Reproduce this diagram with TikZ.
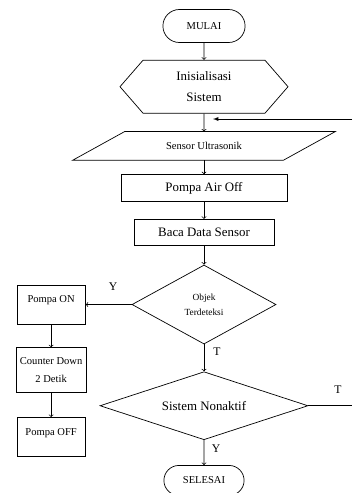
\documentclass[tikz,border=0pt]{standalone}
\usepackage{fontspec}
\setmainfont{Liberation Serif}
\usetikzlibrary{shapes.geometric, shapes.symbols, shapes.misc, arrows, positioning}
\tikzstyle{terminal} = [rounded rectangle, minimum width=2.7cm, minimum height=0.99cm, draw=black, fill=white, font=\fontsize{9}{10}\selectfont]
\tikzstyle{prep} = [signal, signal to=west and east, signal pointer angle=98, minimum width=5.04cm, minimum height=1.59cm, draw=black, align=center, font=\fontsize{11}{18}\selectfont]
\tikzstyle{io} = [rectangle, minimum width=6.3cm, minimum height=0.84cm, inner sep=1pt, font=\fontsize{9}{11}\selectfont]
\tikzstyle{process} = [rectangle, minimum height=0.8cm, draw=black, font=\fontsize{11}{13}\selectfont]
\tikzstyle{decision} = [diamond, inner sep=0pt, align=center, draw=black]
\tikzstyle{sidebox} = [rectangle, minimum width=2.05cm, inner ysep=0pt, align=center, draw=black, font=\fontsize{9}{15}\selectfont]
\tikzstyle{branch} = [font=\fontsize{10}{12}\selectfont]
\tikzstyle{arrow} = [line width=0.6pt,->,>=to]
\tikzstyle{line} = [line width=0.6pt]

\begin{document}
\begin{tikzpicture}[x=0.03cm, y=-0.03cm, every path/.style={line width=0.6pt}]
		\useasboundingbox (0,0) rectangle (352,493);
		\node (mulai) [terminal] at (204,26) {MULAI};
		\node (inisialisasi) [prep, below=0.51cm of mulai] {Inisialisasi\\Sistem};
		\node (sensor) [io, below=0.54cm of inisialisasi] {Sensor Ultrasonik};
		\draw [line] ([xshift=0.78cm]sensor.north west) -- ([xshift=0.78cm]sensor.north east) -- ([xshift=-0.78cm]sensor.south east) -- ([xshift=-0.78cm]sensor.south west) -- cycle;
		\node (pompaoff) [process, minimum width=4.98cm, minimum height=0.81cm, below=0.42cm of sensor] {Pompa Air Off};
		\node (baca) [process, minimum width=4.2cm, minimum height=0.78cm, below=0.51cm of pompaoff] {Baca Data Sensor};
		\node (objek) [decision, aspect=1.82, minimum width=4.32cm, minimum height=2.37cm, font=\fontsize{8}{13}\selectfont, below=0.57cm of baca] {Objek\\Terdeteksi};
		\node (nonaktif) [decision, aspect=3.06, minimum width=6.24cm, minimum height=2.04cm, font=\fontsize{11}{13}\selectfont, below=0.81cm of objek] {Sistem Nonaktif};
		\node (selesai) [terminal, minimum width=2.64cm, minimum height=0.9cm, below=0.75cm of nonaktif] {SELESAI};
		\node (pompaon) [sidebox, text height=0.51cm, text depth=0.66cm, left=1.38cm of objek] {Pompa ON};
		\node (countdown) [sidebox, minimum height=1.35cm, below=0.69cm of pompaon] {Counter Down\\2 Detik};
		\node (pompamati) [sidebox, text height=0.54cm, text depth=0.63cm, below=0.72cm of countdown] {Pompa OFF};
		\coordinate (loopin) at (352,119);
		\coordinate (looptip) at (213,119);
		\coordinate (exitT) at (352,402);
		\node (labY1) [branch] at (113,287) {Y};
		\node (labT1) [branch] at (217,352) {T};
		\node (labT2) [branch] at (338,390) {T};
		\node (labY2) [branch] at (216,449) {Y};
		\draw [arrow] (mulai) -- (inisialisasi);
		\draw [arrow] (inisialisasi) -- (sensor);
		\draw [line,-latex] (loopin) -- (looptip);
		\draw [arrow] (sensor) -- (pompaoff);
		\draw [arrow] (pompaoff) -- (baca);
		\draw [arrow] (baca) -- (objek);
		\draw [arrow] (objek) -- (pompaon);
		\draw [arrow] (pompaon) -- (countdown);
		\draw [arrow] (countdown) -- (pompamati);
		\draw [arrow] (objek) -- (nonaktif);
		\draw [line] (nonaktif.east) -- (nonaktif.east -| exitT);
		\draw [arrow] (nonaktif) -- (selesai);
	\end{tikzpicture}
\end{document}
